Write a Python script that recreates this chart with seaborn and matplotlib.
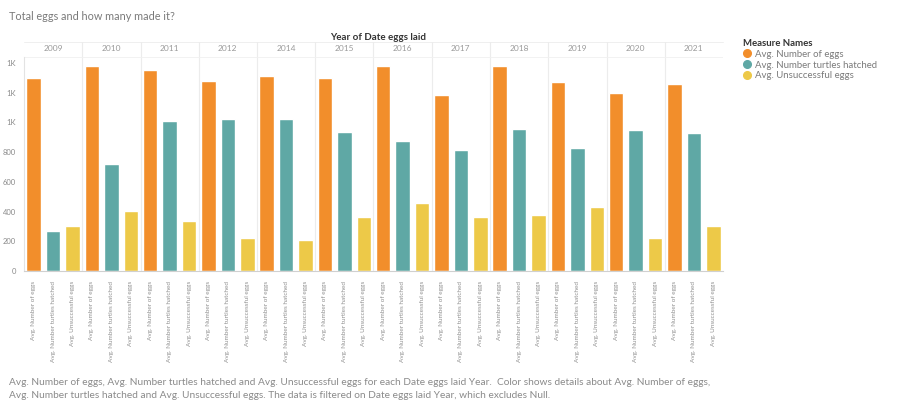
import matplotlib
matplotlib.use("Agg")
import matplotlib.pyplot as plt
from matplotlib.lines import Line2D
import pandas as pd
import seaborn as sns

# ---- data -------------------------------------------------------------
years = ["2009", "2010", "2011", "2012", "2014", "2015",
         "2016", "2017", "2018", "2019", "2020", "2021"]
measures = ["Avg. Number of eggs", "Avg. Number turtles hatched", "Avg. Unsuccessful eggs"]
avg_eggs = [1300, 1380, 1350, 1280, 1310, 1300, 1380, 1185, 1380, 1275, 1195, 1255]
avg_hatched = [268, 718, 1010, 1020, 1020, 932, 875, 813, 954, 826, 947, 929]
avg_unsuccessful = [302, 404, 337, 224, 210, 366, 460, 366, 375, 433, 224, 303]
y_ticks = [0, 200, 400, 600, 800, 1000, 1200, 1400]
y_tick_labels = ["0", "200", "400", "600", "800", "1K", "1K", "1K"]
colors = ["#f28e2b", "#5fa8a5", "#edc948"]

rows = []
for i, yr in enumerate(years):
    for m, vals in zip(measures, [avg_eggs, avg_hatched, avg_unsuccessful]):
        rows.append({"slot": f"{yr}|{m}", "year": yr, "measure": m, "value": vals[i]})
df = pd.DataFrame(rows)
slots = list(df["slot"])

# ---- figure -----------------------------------------------------------
sns.set_theme(style="white")
plt.rcParams["font.family"] = ["Lato", "DejaVu Sans"]

W, H = 902, 415
fig = plt.figure(figsize=(W / 100, H / 100), dpi=100)
ax_left, ax_right, ax_top, ax_bottom = 24, 723, 57, 271
ax = fig.add_axes([ax_left / W, 1 - ax_bottom / H,
                   (ax_right - ax_left) / W, (ax_bottom - ax_top) / H])

sns.barplot(data=df, x="slot", y="value", hue="measure", order=slots,
            hue_order=measures, palette=colors, dodge=False, width=0.75,
            saturation=1, legend=False, ax=ax)

ax.set_xlim(-0.5, len(slots) - 0.5)
ax.set_ylim(0, 1440)
ax.set_xlabel("")
ax.set_ylabel("")
for s in ["top", "right"]:
    ax.spines[s].set_visible(False)
ax.spines["left"].set_color("#e3e3e3")
ax.spines["bottom"].set_color("#d0d0d0")
ax.spines["left"].set_linewidth(0.8)
ax.spines["bottom"].set_linewidth(0.8)

ax.set_yticks(y_ticks)
ax.set_yticklabels(y_tick_labels)
ax.tick_params(axis="y", length=0, pad=6, labelsize=5.5, labelcolor="#8a8a8a")

ax.set_xticks(range(len(slots)))
ax.set_xticklabels(list(df["measure"]), rotation=90, va="top", ha="center")
ax.tick_params(axis="x", length=0, pad=7, labelsize=4.6, labelcolor="#8f8f8f")

# panel dividers and year header row
ax_h = ax_bottom - ax_top
header_top = 1 + (ax_top - 42) / ax_h
for k in range(1, len(years)):
    ax.axvline(3 * k - 0.5, ymin=0, ymax=header_top, color="#ececec",
               lw=0.8, clip_on=False, zorder=0)
ax.axhline(ax.get_ylim()[1], color="#f0f0f0", lw=0.6, zorder=0)
ax.plot([-0.5, len(slots) - 0.5], [header_top, header_top], color="#ececec", lw=0.6,
        transform=ax.get_xaxis_transform(), clip_on=False)
for i, yr in enumerate(years):
    ax.text(3 * i + 1, 1 + (ax_top - 49) / ax_h, yr, transform=ax.get_xaxis_transform(),
            ha="center", va="center", fontsize=6.0, color="#9a9a9a")

fig.text(378 / W, 1 - 37 / H, "Year of Date eggs laid", ha="center", va="center",
         fontsize=7.0, fontweight="bold", color="#333333")

fig.text(9 / W, 1 - 17 / H, "Total eggs and how many made it?", ha="left",
         va="center", fontsize=7.8, color="#7a7a7a")

# legend
handles = [Line2D([0], [0], marker="o", linestyle="", markersize=5.5,
                  markerfacecolor=c, markeredgecolor=c) for c in colors]
leg = fig.legend(handles, measures, loc="upper left",
                 bbox_to_anchor=(736 / W, 1 - 32 / H), frameon=False,
                 title="Measure Names", alignment="left", fontsize=6.9,
                 title_fontproperties={"weight": "bold", "size": 6.9},
                 handletextpad=0.3, labelspacing=0.2, borderpad=0.2,
                 handlelength=1.0)
for t in leg.get_texts():
    t.set_color("#7a7a7a")
leg.get_title().set_color("#333333")

caption = ("Avg. Number of eggs, Avg. Number turtles hatched and Avg. Unsuccessful eggs for each "
           "Date eggs laid Year.  Color shows details about Avg. Number of eggs,\n"
           "Avg. Number turtles hatched and Avg. Unsuccessful eggs. The data is filtered on "
           "Date eggs laid Year, which excludes Null.")
fig.text(9 / W, 1 - 389 / H, caption, ha="left", va="center", fontsize=7.3,
         color="#8a8a8a", linespacing=1.5)

fig.savefig("out.png", dpi=100, facecolor="white")
